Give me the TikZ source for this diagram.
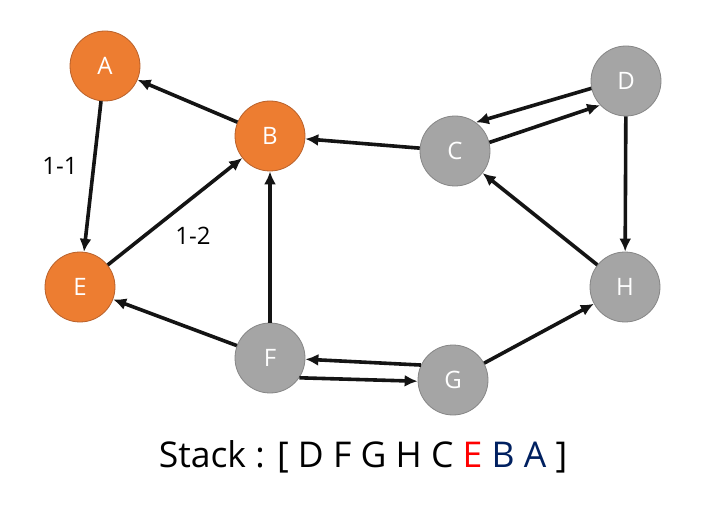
\documentclass[tikz,border=0pt]{standalone}
\usepackage{fontspec}
\setmainfont{Open Sans}
\usetikzlibrary{arrows.meta}
\definecolor{nodeorange}{HTML}{ED7D31}
\definecolor{orangeline}{HTML}{B8602A}
\definecolor{nodegray}{HTML}{A5A5A5}
\definecolor{grayline}{HTML}{858585}
\definecolor{stackblue}{HTML}{002060}
\definecolor{stackred}{HTML}{FF0000}

\begin{document}
\begin{tikzpicture}[
        x = 1pt, y = -1pt,
  every node/.style = {inner sep=0pt},
        vtx/.style = {circle, minimum size=70pt, fill=nodegray, draw=grayline,
                      line width=0.8pt, text=white, font=\fontsize{24}{28}\selectfont},
       done/.style = {vtx, fill=nodeorange, draw=orangeline},
        lbl/.style = {font=\fontsize{24}{28}\selectfont},
        arr/.style = {line width=3.6pt, draw={rgb,255:red,20;green,20;blue,20},
                      -{Latex[length=13pt,width=12pt]}}
                        ]
\useasboundingbox (0,0) rectangle (721,508);
%
\node (A) [done] at (105,66)  {A};
\node (B) [done] at (270,136) {B};
\node (E) [done] at (80,287)  {E};
\node (C) [vtx]  at (455,151) {C};
\node (D) [vtx]  at (626,81)  {D};
\node (H) [vtx]  at (625,287) {H};
\node (F) [vtx]  at (270,358) {F};
\node (G) [vtx]  at (453,380) {G};
%
\draw[arr] (B) -- (A);
\draw[arr] (A) -- (E);
\draw[arr] (E) -- (B);
\draw[arr] (C) -- (B);
\draw[arr] (C.14)  -- (D.223);
\draw[arr] (D.192) -- (C.54);
\draw[arr] (D) -- (H);
\draw[arr] (H) -- (C);
\draw[arr] (F) -- (B);
\draw[arr] (F) -- (E);
\draw[arr] (G.155) -- (F.358);
\draw[arr] (F.326) -- (G.182);
\draw[arr] (G) -- (H);
%
\node (l11) [lbl] at (60,166)  {1-1};
\node (l12) [lbl] at (193,236) {1-2};
\node (Stack) [font=\fontsize{35.5}{40}\selectfont] at (363,457)
      {Stack : [ D F G H C \textcolor{stackred}{E} \textcolor{stackblue}{B} \textcolor{stackblue}{A} ]};
\end{tikzpicture}
\end{document}
